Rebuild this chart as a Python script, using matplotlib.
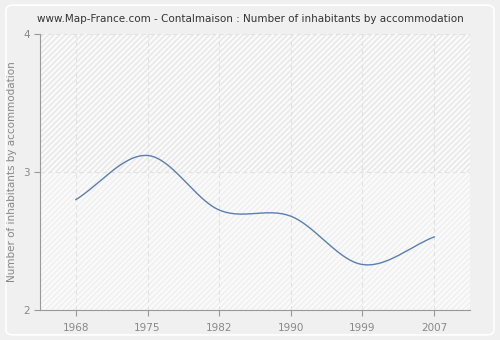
import numpy as np
import matplotlib
matplotlib.use("Agg")
import matplotlib.pyplot as plt
from matplotlib.patches import FancyBboxPatch

years = ["1968", "1975", "1982", "1990", "1999", "2007"]
values = [2.80, 3.12, 2.725, 2.68, 2.33, 2.53]


def smooth(x, y, xs):
    # cardinal (Catmull-Rom) spline through the points
    x = np.asarray(x, float)
    y = np.asarray(y, float)
    h = np.diff(x)
    d = np.diff(y) / h
    m = np.empty_like(y)
    m[1:-1] = (y[2:] - y[:-2]) / (x[2:] - x[:-2])
    m[0] = d[0]
    m[-1] = d[-1]
    out = np.empty_like(xs)
    for i, t in enumerate(xs):
        k = min(np.searchsorted(x, t, side="right") - 1, len(x) - 2)
        s = (t - x[k]) / h[k]
        h00 = 2 * s**3 - 3 * s**2 + 1
        h10 = s**3 - 2 * s**2 + s
        h01 = -2 * s**3 + 3 * s**2
        h11 = s**3 - s**2
        out[i] = h00 * y[k] + h10 * h[k] * m[k] + h01 * y[k + 1] + h11 * h[k] * m[k + 1]
    return out


fig = plt.figure(figsize=(5, 3.4), dpi=100)
fig.patch.set_facecolor("#f0f0f0")

bg = fig.add_axes([0, 0, 1, 1], zorder=-5)
bg.set_axis_off()
bg.add_patch(FancyBboxPatch((0.012, 0.015), 0.976, 0.97, boxstyle="round,pad=0,rounding_size=0.015",
                            transform=bg.transAxes, facecolor="#f0f0f0",
                            edgecolor="#ffffff", linewidth=1.2))

ax = fig.add_axes([0.08, 0.088, 0.86, 0.812])
ax.set_facecolor("#fafafa")
ax.add_patch(plt.Rectangle((-0.5, 3), 6, 1, facecolor="none", edgecolor="#e6e6e6",
                           hatch="//////", linewidth=0, zorder=0))
ax.add_patch(plt.Rectangle((-0.5, 2), 6, 1, facecolor="none", edgecolor="#efefef",
                           hatch="//////", linewidth=0, zorder=0))

pos = np.arange(len(years))
xs = np.linspace(0, len(years) - 1, 400)
ax.plot(xs, smooth(pos, values, xs), color="#5a7fb0", linewidth=1.0, zorder=3)

ax.set_xlim(-0.5, len(years) - 0.5)
ax.set_ylim(2, 4)
ax.set_xticks(pos)
ax.set_xticklabels(years)
ax.set_yticks([2, 3, 4])
ax.grid(True, color="#e2e2e2", linestyle=(0, (4, 3)), linewidth=0.8)
ax.set_axisbelow(True)
for s in ["top", "right"]:
    ax.spines[s].set_visible(False)
for s in ["left", "bottom"]:
    ax.spines[s].set_color("#999999")
ax.tick_params(colors="#999999", labelcolor="#888888", labelsize=7.5, length=4, width=0.8)
ax.tick_params(axis="x", pad=5)
ax.set_ylabel("Number of inhabitants by accommodation", color="#888888", fontsize=7.5)
fig.text(0.5, 0.945, "www.Map-France.com - Contalmaison : Number of inhabitants by accommodation",
         ha="center", va="center", fontsize=7.5, color="#333333")

fig.savefig("out.png", dpi=100, facecolor=fig.get_facecolor())
